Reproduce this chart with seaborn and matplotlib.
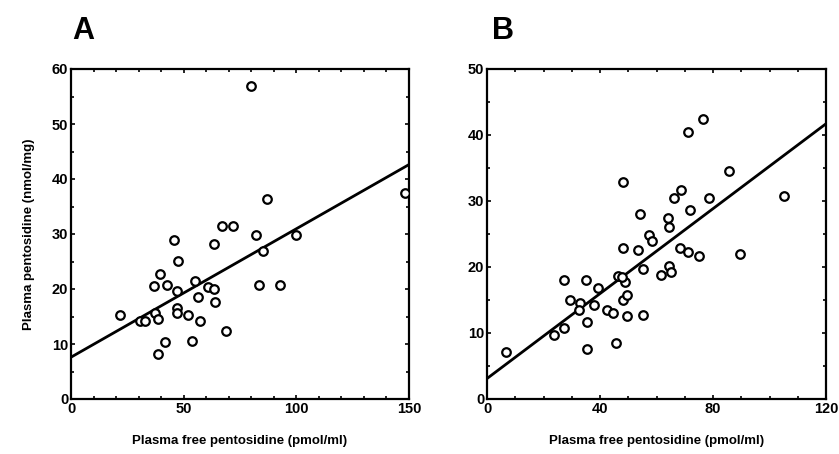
import numpy as np
import pandas as pd
import matplotlib
matplotlib.use("Agg")
import matplotlib.pyplot as plt
import seaborn as sns
from matplotlib.ticker import MultipleLocator

sns.set_style("ticks")
plt.rcParams['font.family'] = ['Liberation Sans', 'DejaVu Sans']
plt.rcParams['font.weight'] = 'bold'
plt.rcParams['text.color'] = 'black'
plt.rcParams['axes.labelcolor'] = 'black'
plt.rcParams['xtick.color'] = 'black'
plt.rcParams['ytick.color'] = 'black'
plt.rcParams['axes.edgecolor'] = 'black'

# Panel A data
a_free = [80.0, 148.1, 86.9, 67.1, 72.1, 82.3, 99.7, 45.5, 63.5, 85.0, 47.7, 39.4,
          54.9, 42.6, 37.0, 83.4, 92.7, 61.0, 63.5, 46.9, 56.3, 63.8, 46.9, 46.9,
          37.2, 52.0, 21.8, 30.8, 33.0, 38.6, 57.3, 68.7, 41.5, 53.6, 38.6]
a_plasma = [56.9, 37.4, 36.4, 31.4, 31.4, 29.8, 29.8, 29.0, 28.1, 27.0, 25.1, 22.8,
            21.4, 20.7, 20.5, 20.8, 20.8, 20.3, 20.0, 19.7, 18.6, 17.6, 16.5, 15.7,
            15.6, 15.3, 15.2, 14.2, 14.1, 14.5, 14.2, 12.3, 10.3, 10.6, 8.2]
a_fit = (7.6, 0.2335)   # intercept, slope

# Panel B data
b_free = [6.7, 23.6, 27.2, 27.2, 29.4, 32.8, 32.5, 35.3, 35.4, 35.2, 39.4, 38.0,
          42.4, 44.6, 45.7, 46.2, 48.0, 48.0, 48.0, 48.9, 49.7, 49.7, 53.4, 54.1,
          55.1, 55.1, 57.5, 58.4, 61.7, 63.9, 64.4, 64.4, 65.1, 66.3, 68.5, 68.3,
          71.2, 71.2, 71.9, 75.2, 76.6, 78.7, 85.6, 89.4, 105.3, 47.9]
b_plasma = [7.1, 9.7, 10.8, 18.1, 15.0, 14.6, 13.5, 11.6, 7.6, 18.1, 16.8, 14.2,
            13.5, 13.1, 8.5, 18.6, 22.9, 32.9, 15.0, 17.8, 15.8, 12.6, 22.6, 28.1,
            19.7, 12.8, 24.8, 24.0, 18.8, 27.4, 26.1, 20.2, 19.3, 30.5, 31.7, 22.9,
            40.4, 22.3, 28.6, 21.6, 42.5, 30.5, 34.6, 21.9, 30.8, 18.5]
b_fit = (3.1, 0.3217)

fig = plt.figure(figsize=(8.39, 4.54), dpi=100)
axA = fig.add_axes([71/839, 1-399/454, (409-71)/839, (399-69)/454])
axB = fig.add_axes([487/839, 1-399/454, (826-487)/839, (399-69)/454])

def panel(ax, xs, ys, fit, xmax, ymax, xmaj, xmin_, letter, lx0):
    df = pd.DataFrame({"x": xs, "y": ys})
    sns.scatterplot(data=df, x="x", y="y", ax=ax, marker="o", s=38,
                    facecolor="white", edgecolor="black", linewidth=1.6, zorder=3)
    lx = np.array([0, xmax])
    ldf = pd.DataFrame({"x": lx, "y": fit[0] + fit[1] * lx})
    sns.lineplot(data=ldf, x="x", y="y", ax=ax, color="black", linewidth=2.0, zorder=2)
    ax.set_xlim(0, xmax)
    ax.set_ylim(0, ymax)
    ax.xaxis.set_major_locator(MultipleLocator(xmaj))
    ax.xaxis.set_minor_locator(MultipleLocator(xmin_))
    ax.yaxis.set_major_locator(MultipleLocator(10))
    ax.yaxis.set_minor_locator(MultipleLocator(5))
    ax.tick_params(which="both", direction="in", top=True, right=True,
                   width=1.2, labelsize=10.5, pad=2, colors="black")
    ax.tick_params(which="major", length=3)
    ax.tick_params(which="minor", length=2)
    for sp in ax.spines.values():
        sp.set_linewidth(1.6)
        sp.set_visible(True)
        sp.set_color("black")
    for lab in ax.get_xticklabels() + ax.get_yticklabels():
        lab.set_fontweight("bold")
    ax.set_xlabel("Plasma free pentosidine (pmol/ml)", fontsize=9.5,
                  fontweight="bold", labelpad=14, color="black")
    ax.set_ylabel("")
    ax.text(lx0, 1.09, letter, transform=ax.transAxes, fontsize=22,
            fontweight="bold", ha="left", va="baseline", color="black")

panel(axA, a_free, a_plasma, a_fit, 150, 60, 50, 10, "A", 0.005)
panel(axB, b_free, b_plasma, b_fit, 120, 50, 40, 10, "B", 0.015)
axA.set_ylabel("Plasma pentosidine (nmol/mg)", fontsize=9.5, fontweight="bold",
               labelpad=12, color="black")

fig.savefig("out.png", dpi=100)
